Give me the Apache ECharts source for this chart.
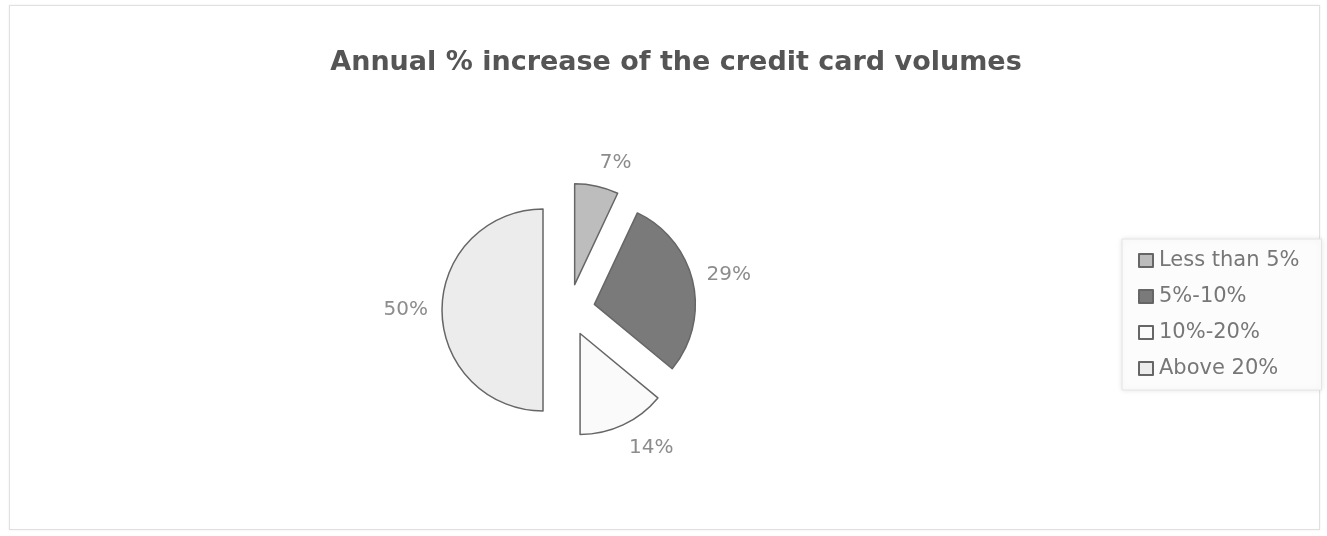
<!DOCTYPE html>
<html>
<head>
<meta charset="utf-8">
<script src="https://cdn.jsdelivr.net/npm/echarts@6/dist/echarts.min.js"></script>
<style>
  html, body { margin: 0; padding: 0; background: #fff; }
  #frame { position: absolute; left: 9px; top: 5px; width: 1311px; height: 525px; border: 1px solid #e0e0e0; box-sizing: border-box; box-shadow: 0 0 2px rgba(0,0,0,0.08); }
  #chart { position: absolute; left: 0; top: 0; width: 1327px; height: 536px; }
</style>
</head>
<body>
<div id="frame"></div>
<div id="chart"></div>
<script>
// Share of respondents by annual growth band of credit card volumes
const categories = ['Less than 5%', '5%-10%', '10%-20%', 'Above 20%'];
const shares = [7, 29, 14, 50];
const fills = ['#bdbdbd', '#7a7a7a', '#fafafa', '#ececec'];

const PIE_CX = 569, PIE_CY = 310, PIE_R = 101, EXPLODE = 26;
const LABEL_R = 141;       // distance of the label box corner from the pie centre

// mid angle of each slice, clockwise from 12 o'clock
const total = shares.reduce((a, b) => a + b, 0);
let acc = 0;
const midAngles = shares.map(v => {
  const m = (acc + v / 2) / total * Math.PI * 2;
  acc += v;
  return m;
});

const clamp1 = v => Math.max(-1, Math.min(1, v));

const labelFont = {
  fontFamily: 'DejaVu Sans',
  fontSize: 20,
  color: '#8c8c8c'
};

const chart = echarts.init(document.getElementById('chart'));

chart.setOption({
  animation: false,
  title: {
    text: 'Annual % increase of the credit card volumes',
    left: 671,
    textAlign: 'center',
    top: 44,
    textStyle: {
      fontFamily: 'DejaVu Sans',
      fontSize: 27,
      fontWeight: 'bold',
      color: '#555'
    }
  },
  legend: {
    orient: 'vertical',
    left: 1122,
    top: 239,
    padding: [11, 22, 11, 16],
    backgroundColor: '#fcfcfc',
    borderColor: '#e4e4e4',
    borderWidth: 1,
    shadowBlur: 6,
    shadowColor: 'rgba(0,0,0,0.10)',
    itemGap: 15,
    itemWidth: 14,
    itemHeight: 13,
    icon: 'rect',
    data: categories,
    textStyle: {
      fontFamily: 'DejaVu Sans',
      fontSize: 21,
      color: '#777',
      padding: [0, 0, 0, 1]
    },
    selectedMode: false
  },
  series: [
    // exploded slices
    {
      type: 'pie',
      center: [PIE_CX, PIE_CY],
      radius: PIE_R,
      startAngle: 90,
      clockwise: true,
      selectedMode: 'multiple',
      selectedOffset: EXPLODE,
      label: { show: false },
      labelLine: { show: false },
      itemStyle: { borderColor: '#666', borderWidth: 1.5 },
      emphasis: { disabled: true },
      select: { itemStyle: { borderColor: '#666', borderWidth: 1.5 } },
      data: categories.map((name, i) => ({
        name: name,
        value: shares[i],
        selected: true,
        itemStyle: { color: fills[i] }
      }))
    },
    // percentage labels around the exploded rim
    {
      type: 'pie',
      center: [PIE_CX, PIE_CY],
      radius: PIE_R,
      startAngle: 90,
      clockwise: true,
      silent: true,
      legendHoverLink: false,
      avoidLabelOverlap: false,
      selectedMode: false,
      itemStyle: { color: 'rgba(0,0,0,0)', borderWidth: 0 },
      emphasis: { disabled: true },
      label: Object.assign({
        show: true,
        position: 'outside',
        formatter: '{c}%'
      }, labelFont),
      labelLine: { show: false },
      labelLayout: function (params) {
        const a = midAngles[params.dataIndex];
        const ux = Math.sin(a), uy = -Math.cos(a);
        const w = params.labelRect.width, h = params.labelRect.height;
        const sx = Math.abs(ux) < 0.05 ? 0 : Math.sign(ux);
        const sy = clamp1(uy * 2);
        return {
          x: PIE_CX + LABEL_R * ux + sx * w / 2,
          y: PIE_CY + LABEL_R * uy + sy * h / 2,
          align: 'center',
          verticalAlign: 'middle'
        };
      },
      data: categories.map((name, i) => ({ name: name, value: shares[i] }))
    }
  ]
});
</script>
</body>
</html>
